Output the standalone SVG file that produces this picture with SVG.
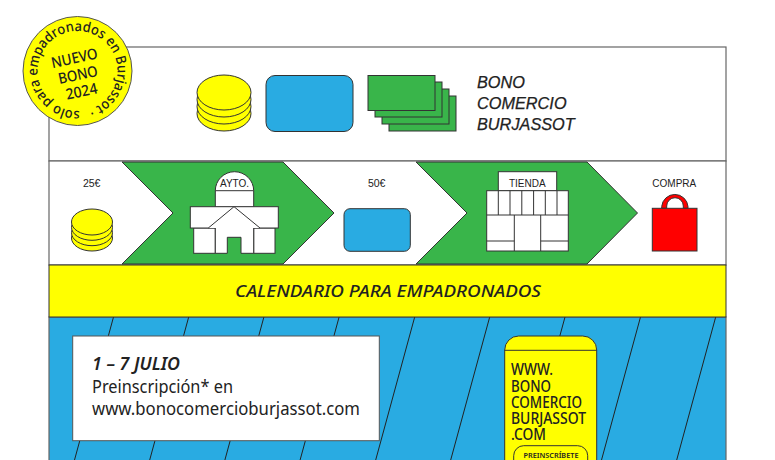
<svg xmlns="http://www.w3.org/2000/svg" width="775" height="460" viewBox="0 0 775 460">
<style>
.s{stroke:#333;stroke-width:1}
.w{fill:#fff}.y{fill:#ff0}.b{fill:#29abe2}.g{fill:#39b54a}.r{fill:#f00}
.l{font-family:"Liberation Sans",Arial,sans-serif;font-size:10px;fill:#222;text-anchor:middle}
.h{font-family:"Liberation Sans",Arial,sans-serif;font-style:italic;font-size:16.3px;fill:#222;stroke:#222;stroke-width:.25}
.m{font-family:"Noto Sans","Open Sans",sans-serif;fill:#222}
</style>
<rect width="775" height="460" fill="#fff"/>
<g id="panel-top"><rect x="49" y="47" width="677" height="114" class="w" stroke="#666" stroke-width="1.2"/></g>
<g id="panel-flow"><rect x="49" y="161" width="677" height="104" class="w" stroke="#666" stroke-width="1.2"/>
<polygon class="g s" points="122,162 283,162 334,213 283,264 122,264 173,213"/>
<polygon class="g s" points="416,162 587,162 637.5,213 587,264 416,264 467,213"/></g>
<g id="panel-blue"><rect x="49" y="317" width="677" height="150" class="b" stroke="#666" stroke-width="1.2"/></g>
<g id="connectors" fill="none" stroke="#222" stroke-width="1">
<path d="M113.5 317L74.5 460M188.7 317L149.7 460M263.9 317L224.9 460M339.1 317L300.1 460M414.7 317L375.7 460M489.7 317L450.7 460M565 317L526 460M640.5 317L601.5 460M715.7 317L676.7 460"/>
</g>
<g id="banner"><rect x="49" y="265" width="677" height="52" class="y s"/>
<text x="388" y="297" class="m" font-size="16" font-weight="500" font-style="italic" text-anchor="middle" textLength="306" lengthAdjust="spacingAndGlyphs">CALENDARIO PARA EMPADRONADOS</text></g>
<g id="coins-large" class="y s">
<ellipse cx="224" cy="113.5" rx="27" ry="17.5"/><ellipse cx="224" cy="106.5" rx="27" ry="17.5"/><ellipse cx="224" cy="99.5" rx="27" ry="17.5"/><ellipse cx="224" cy="92.5" rx="27" ry="17.5"/>
</g>
<g id="card-large"><rect x="266" y="75.5" width="87" height="56" rx="9" class="b s"/></g>
<g id="notes" class="g s">
<rect x="389" y="96" width="67" height="35"/><rect x="382" y="89" width="67" height="35"/><rect x="375" y="82" width="67" height="35"/><rect x="368" y="75.500" width="67" height="35"/>
</g>
<g id="title"><text class="h" x="477" y="88.300">BONO</text><text class="h" x="477" y="109.300">COMERCIO</text><text class="h" x="477" y="130">BURJASSOT</text></g>
<g id="badge">
<defs><path id="arc" d="M77.500 111A40 40 0 1 1 77.600 111"/></defs>
<circle cx="77.500" cy="71" r="54.500" class="y" stroke="#555" stroke-width="1"/>
<text class="m" font-size="14" font-weight="500" transform="rotate(-3 77.500 71)"><textPath href="#arc" textLength="241" lengthAdjust="spacingAndGlyphs">solo para empadronados en Burjassot ·</textPath></text>
<g class="m" font-size="15" font-weight="500" text-anchor="middle" transform="rotate(-12 78 75)"><text x="78" y="63" textLength="47" lengthAdjust="spacingAndGlyphs">NUEVO</text><text x="78" y="80" textLength="40" lengthAdjust="spacingAndGlyphs">BONO</text><text x="78" y="97" textLength="32" lengthAdjust="spacingAndGlyphs">2024</text></g>
</g>
<g id="step-25"><text class="l" x="91.700" y="186.700" style="font-size:10.500px">25€</text>
<g class="y s"><ellipse cx="92" cy="238" rx="20.500" ry="13"/><ellipse cx="92" cy="232.700" rx="20.500" ry="13"/><ellipse cx="92" cy="227.300" rx="20.500" ry="13"/><ellipse cx="92" cy="222" rx="20.500" ry="13"/></g></g>
<g id="step-ayto" class="w s">
<path d="M215.300 190.700A19.200 19 0 0 1 253.700 190.700V207H215.300Z"/>
<path d="M215.300 190.700H253.700" fill="none"/>
<rect x="193.700" y="228" width="21.600" height="25.300"/>
<rect x="253.700" y="228" width="21.300" height="25.300"/>
<rect x="190.300" y="206.700" width="88" height="21.300"/>
<path d="M208.300 228L234 206.700L260 228H253.700V253.300H241V237.300H227.300V253.300H215.300V228Z" stroke="none"/>
<path d="M208.300 228L234 206.700L260 228M253.700 228V253.300H241V237.300H227.300V253.300H215.300V228" fill="none"/>
<text class="l" x="234.500" y="186.700" stroke="none" style="fill:#222">AYTO.</text>
</g>
<g id="step-50"><text class="l" x="376.700" y="186.700" style="font-size:10.500px">50€</text><rect x="344" y="208.700" width="66.300" height="42.600" rx="6" class="b s"/></g>
<g id="step-tienda" class="w s">
<rect x="498.300" y="171.700" width="58.400" height="19"/>
<rect x="486.700" y="190.700" width="81.600" height="60.300"/>
<path d="M486.700 215H568.300M498.300 190.700V215M510 190.700V215M521.800 190.700V215M533.600 190.700V215M545.300 190.700V215M557 190.700V215M514.300 215V251M540.700 215V251M486.700 241H514.300M540.700 241H568.300" fill="none"/>
<text class="l" x="527.300" y="186.700" stroke="none" style="fill:#222">TIENDA</text>
</g>
<g id="step-compra"><text class="l" x="674.300" y="186.700">COMPRA</text>
<path class="r s" d="M661.700 208.300V206.500A13.200 13.200 0 0 1 688 206.500V208.300H683.300V206A8.300 8.300 0 0 0 666.700 206V208.300Z"/>
<rect x="652.300" y="208.300" width="44.700" height="42.700" class="r s"/></g>
<g id="date-box"><rect x="72.700" y="336" width="306.600" height="104.700" class="w" stroke="#555" stroke-width="1"/>
<text class="m" x="92" y="370" font-size="17" font-weight="600" font-style="italic" textLength="88" lengthAdjust="spacingAndGlyphs">1 – 7 JULIO</text>
<text class="m" x="92" y="392.700" font-size="17.500" textLength="141" lengthAdjust="spacingAndGlyphs">Preinscripción* en</text>
<text class="m" x="92" y="415" font-size="17.500" textLength="268" lengthAdjust="spacingAndGlyphs">www.bonocomercioburjassot.com</text></g>
<g id="phone"><path class="y s" d="M504.700 465V350A14 14 0 0 1 518.700 336H582.700A14 14 0 0 1 596.700 350V465Z"/>
<path class="s" d="M504.700 350.300H596.700" fill="none"/>
<g class="m" font-size="16" font-weight="500"><text x="511" y="375.300" textLength="42" lengthAdjust="spacingAndGlyphs">WWW.</text><text x="511" y="391.700" textLength="40" lengthAdjust="spacingAndGlyphs">BONO</text><text x="511" y="408" textLength="71" lengthAdjust="spacingAndGlyphs">COMERCIO</text><text x="511" y="424" textLength="75" lengthAdjust="spacingAndGlyphs">BURJASSOT</text><text x="511" y="440" textLength="35" lengthAdjust="spacingAndGlyphs">.COM</text></g>
<rect x="513.700" y="445.700" width="74" height="30" rx="10" class="y s"/>
<text class="m" x="551" y="458.300" font-size="7" font-weight="600" text-anchor="middle" textLength="55" lengthAdjust="spacingAndGlyphs">PREINSCRÍBETE</text></g>
</svg>
